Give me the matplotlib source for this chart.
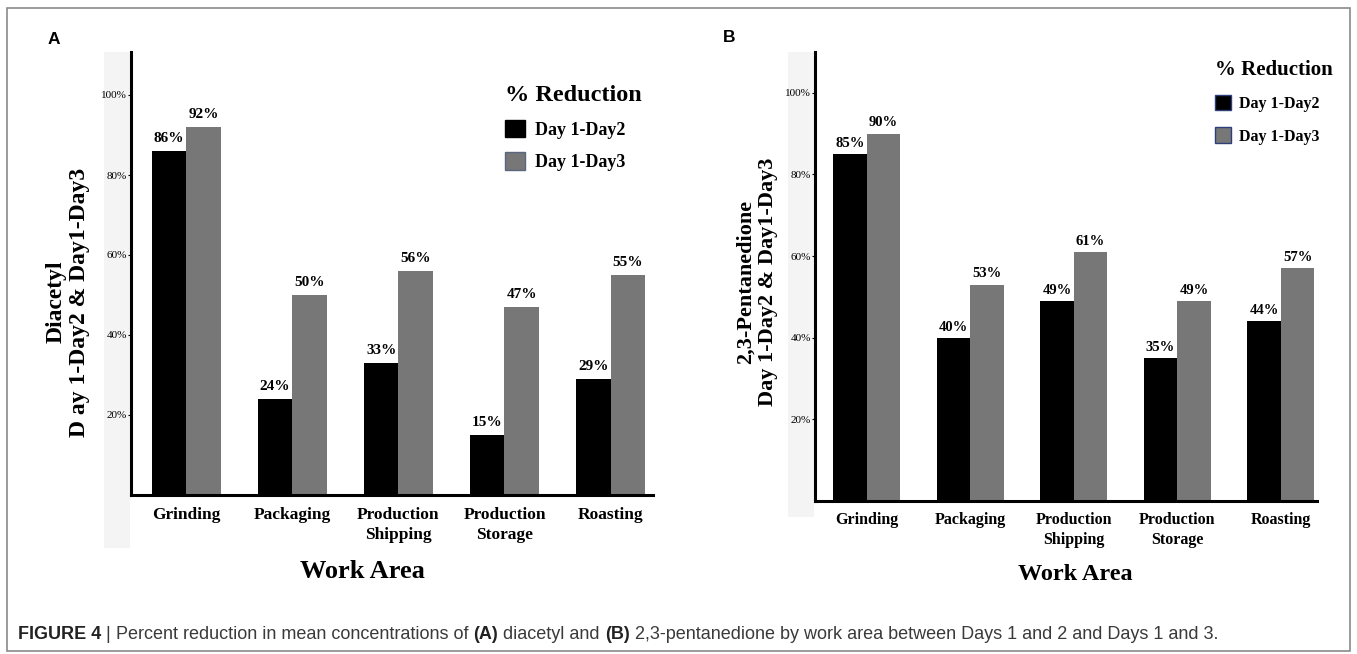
import matplotlib
matplotlib.use("Agg")
import matplotlib.pyplot as plt
from matplotlib.patches import Patch, Rectangle
import numpy as np

# data
areas = ["Grinding", "Packaging", "Production\nShipping", "Production\nStorage", "Roasting"]
yticks = [20, 40, 60, 80, 100]
diacetyl_d12 = [86, 24, 33, 15, 29]
diacetyl_d13 = [92, 50, 56, 47, 55]
pentane_d12 = [85, 40, 49, 35, 44]
pentane_d13 = [90, 53, 61, 49, 57]

BLACK = "#000000"
GRAY = "#777777"
SERIF = "Liberation Serif"

W, H = 1357, 654
fig = plt.figure(figsize=(W / 100, H / 100), dpi=100)


def fx(px):
    return px / W


def fy(py):
    return 1 - py / H


# outer frame
fig.patches.append(Rectangle((fx(7), fy(651)), fx(1343), 643 / H, transform=fig.transFigure,
                             fill=False, edgecolor="#8a8a8a", linewidth=1.2, zorder=-1))
# faint bands behind the y tick labels
fig.patches.append(Rectangle((fx(104), fy(548)), fx(26), 496 / H, transform=fig.transFigure,
                             facecolor="#f4f4f4", edgecolor="none", zorder=-1))
fig.patches.append(Rectangle((fx(788), fy(517)), fx(26), 465 / H, transform=fig.transFigure,
                             facecolor="#f4f4f4", edgecolor="none", zorder=-1))


def panel(rect, d12, d13, ylim, xlim, tick_fs, lab_fs, lab_off, pad, lsp):
    ax = fig.add_axes(rect)
    ax.patch.set_alpha(0)
    x = np.arange(len(areas))
    w = 0.325
    b1 = ax.bar(x - w / 2, d12, w, color=BLACK, linewidth=0)
    b2 = ax.bar(x + w / 2, d13, w, color=GRAY, linewidth=0)
    for bars, vals in ((b1, d12), (b2, d13)):
        for r, v in zip(bars, vals):
            ax.annotate(f"{v}%", (r.get_x() + r.get_width() / 2, v), xytext=(0, lab_off),
                        textcoords="offset points", ha="center", va="bottom",
                        fontfamily=SERIF, fontweight="bold", fontsize=lab_fs)
    ax.set_ylim(*ylim)
    ax.set_xlim(*xlim)
    ax.set_yticks(yticks)
    ax.set_yticklabels([f"{t}%" for t in yticks], fontfamily=SERIF, fontsize=8)
    ax.set_xticks(x)
    ax.set_xticklabels(areas, fontfamily=SERIF, fontweight="bold", fontsize=tick_fs)
    for t in ax.get_xticklabels():
        t.set_linespacing(lsp)
    ax.tick_params(axis="x", length=0, pad=pad)
    ax.tick_params(axis="y", length=2, width=0.8, pad=1)
    for s in ("top", "right"):
        ax.spines[s].set_visible(False)
    for s in ("left", "bottom"):
        ax.spines[s].set_linewidth(2.2)
    return ax


axA = panel([fx(131), fy(495), fx(522), 443 / H], diacetyl_d12, diacetyl_d13,
            (0, 110.75), (-0.52, 4.40), 12.5, 11, 4, 8.5, 1.35)
axB = panel([fx(815), fy(501), fx(502), 449 / H], pentane_d12, pentane_d13,
            (0, 110), (-0.50, 4.35), 11.5, 10.5, 3, 8, 1.3)

# legends
legA = axA.legend(handles=[Patch(facecolor=BLACK, edgecolor=BLACK, label="Day 1-Day2"),
                           Patch(facecolor=GRAY, edgecolor="#5a6680", label="Day 1-Day3")],
                  title="% Reduction", loc="upper left", bbox_to_anchor=(0.70, 0.945),
                  frameon=False, borderpad=0, handlelength=1.1, handleheight=1.1,
                  handletextpad=0.55, labelspacing=0.75, alignment="left",
                  prop={"family": SERIF, "weight": "bold", "size": 13},
                  title_fontproperties={"family": SERIF, "weight": "bold", "size": 17.5})
legB = axB.legend(handles=[Patch(facecolor=BLACK, edgecolor="#2c3f78", label="Day 1-Day2"),
                           Patch(facecolor=GRAY, edgecolor="#2c3f78", label="Day 1-Day3")],
                  title="% Reduction", loc="upper left", bbox_to_anchor=(0.78, 1.0),
                  frameon=False, borderpad=0, handlelength=1.0, handleheight=1.1,
                  handletextpad=0.5, labelspacing=0.95, alignment="left",
                  prop={"family": SERIF, "weight": "bold", "size": 11.5},
                  title_fontproperties={"family": SERIF, "weight": "bold", "size": 15})

# y labels
fig.text(fx(68), fy(302), "Diacetyl\nD ay 1-Day2 & Day1-Day3", rotation=90, ha="center",
         va="center", multialignment="center", fontfamily=SERIF, fontweight="bold",
         fontsize=17, linespacing=1.15)
fig.text(fx(757), fy(282), "2,3-Pentanedione\nDay 1-Day2 & Day1-Day3", rotation=90, ha="center",
         va="center", multialignment="center", fontfamily=SERIF, fontweight="bold",
         fontsize=16, linespacing=1.2)

# x labels
fig.text(fx(362), fy(572), "Work Area", ha="center", va="center", fontfamily=SERIF,
         fontweight="bold", fontsize=19)
fig.text(fx(1075), fy(575), "Work Area", ha="center", va="center", fontfamily=SERIF,
         fontweight="bold", fontsize=17.5)

# panel letters
fig.text(fx(54), fy(39), "A", ha="center", va="center", fontfamily="Liberation Sans",
         fontweight="bold", fontsize=12.5)
fig.text(fx(729), fy(38), "B", ha="center", va="center", fontfamily="Liberation Sans",
         fontweight="bold", fontsize=12.5)

# caption, built piece by piece
pieces = [("FIGURE 4", "bold"), (" | ", "normal"),
          ("Percent reduction in mean concentrations of ", "normal"), ("(A)", "bold"),
          (" diacetyl and ", "normal"), ("(B)", "bold"),
          (" 2,3-pentanedione by work area between Days 1 and 2 and Days 1 and 3.", "normal")]
cap_fs = 13
prev = fig.text(fx(18), fy(643), pieces[0][0], ha="left", va="bottom",
                fontfamily="Liberation Sans", fontweight=pieces[0][1], fontsize=cap_fs,
                color="#222222")
for txt, wt in pieces[1:]:
    prev = axA.annotate(txt, xy=(1, 0), xycoords=prev, ha="left", va="bottom",
                        fontfamily="Liberation Sans", fontweight=wt, fontsize=cap_fs,
                        color="#222222" if wt == "bold" else "#3a3a3a",
                        annotation_clip=False)

plt.savefig("out.png", dpi=100)
